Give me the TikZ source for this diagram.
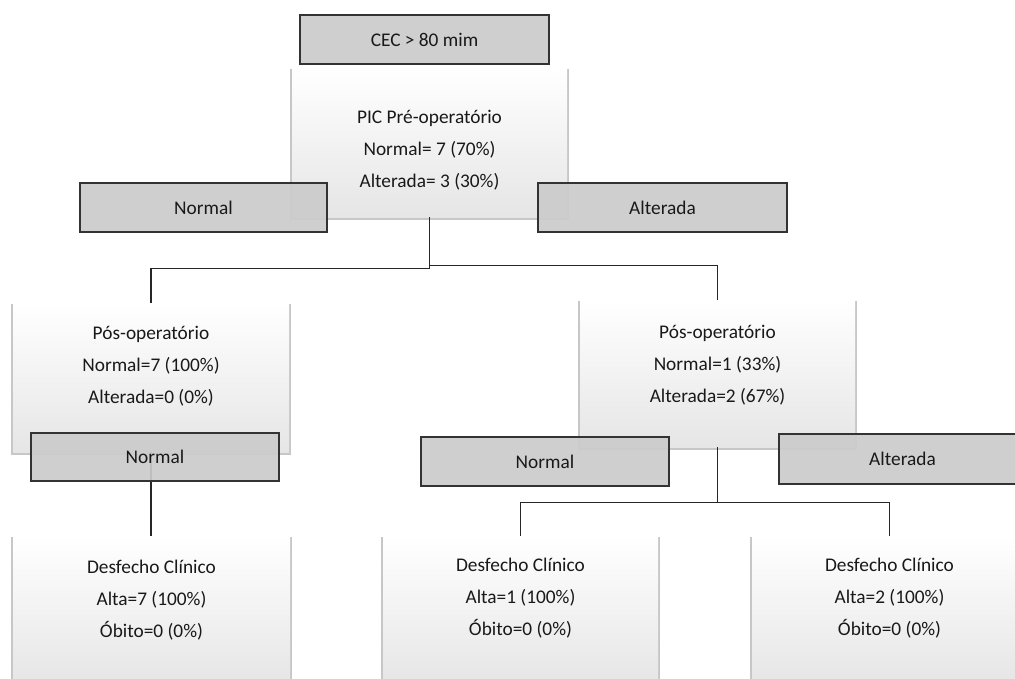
\documentclass[tikz,border=0pt]{standalone}
\usepackage{fontspec}
\setmainfont{Carlito}
\usetikzlibrary{shadows}
\definecolor{boxgray}{RGB}{203,203,203}
\begin{document}
\begin{tikzpicture}[x=0.75pt,y=-0.75pt,
  whitebox/.style={rectangle, inner sep=0pt, top color=white, middle color=white, bottom color=black!10,
    general shadow={fill=black, opacity=0.22, shadow scale=1.012, shadow yshift=-1.3pt}},
  graybox/.style={rectangle, draw=black!80, line width=0.9pt, fill=boxgray, fill opacity=0.92,
    text opacity=1, draw opacity=1, inner sep=0pt, font=\fontsize{14.5}{24}\selectfont, text=black!90,
    minimum width=248*0.75pt, minimum height=49*0.75pt},
  lbl/.style={font=\fontsize{14.5}{24}\selectfont, align=center, text=black!90},
  conn/.style={draw=black!85, line width=0.95pt}]
\useasboundingbox (0,0) rectangle (1015,679);
\clip (0,0) rectangle (1015,679);

% white boxes
\node[whitebox, minimum width=275*0.75pt, minimum height=149*0.75pt] (pic) at (429.5,142.5) {};
\node[lbl] (pict) at (429.5,150) {PIC Pré-operatório\\Normal= 7 (70\%)\\Alterada= 3 (30\%)};

\node[whitebox, minimum width=276*0.75pt, minimum height=149*0.75pt] (posL) at (151,377.5) {};
\node[lbl] (posLt) at (151,366.5) {Pós-operatório\\Normal=7 (100\%)\\Alterada=0 (0\%)};

\node[whitebox, minimum width=275*0.75pt, minimum height=147*0.75pt] (posR) at (717.5,373.5) {};
\node[lbl] (posRt) at (717.5,365) {Pós-operatório\\Normal=1 (33\%)\\Alterada=2 (67\%)};

\node[whitebox, minimum width=277*0.75pt, minimum height=149*0.75pt] (desL) at (151.5,610.5) {};
\node[lbl] (desLt) at (151.5,600) {Desfecho Clínico\\Alta=7 (100\%)\\Óbito=0 (0\%)};

\node[whitebox, minimum width=275*0.75pt, minimum height=149*0.75pt] (desM) at (520.5,610.5) {};
\node[lbl] (desMt) at (520.5,598) {Desfecho Clínico\\Alta=1 (100\%)\\Óbito=0 (0\%)};

\node[whitebox, minimum width=275*0.75pt, minimum height=149*0.75pt] (desR) at (889.5,610.5) {};
\node[lbl] (desRt) at (889.5,598) {Desfecho Clínico\\Alta=2 (100\%)\\Óbito=0 (0\%)};

% connectors
\draw[conn] (pic.south) -- ++(0,51) -| (posL.north);
\draw[conn] (pic.south) ++(0,48) -| (posR.north);
\draw[conn] (posL.south) -- (posL.south |- desL.north);
\draw[conn] (posR.south) -- ++(0,55) -| (desM.north);
\draw[conn] (posR.south) ++(0,55) -| (desR.north);

% gray boxes
\node[graybox, minimum width=249*0.75pt] (cec) at (424.5,39.5) {CEC > 80 mim};
\node[graybox, minimum width=247*0.75pt] (n1) at (203.5,207.5) {Normal};
\node[graybox, minimum width=249*0.75pt] (a1) at (662.5,207.5) {Alterada};
\node[graybox, minimum height=48*0.75pt] (nL) at (155,457) {Normal};
\node[graybox] (nR) at (545,461.5) {Normal};
\node[graybox, minimum width=247*0.75pt, minimum height=50*0.75pt] (aR) at (902.5,459) {Alterada};
\end{tikzpicture}
\end{document}
